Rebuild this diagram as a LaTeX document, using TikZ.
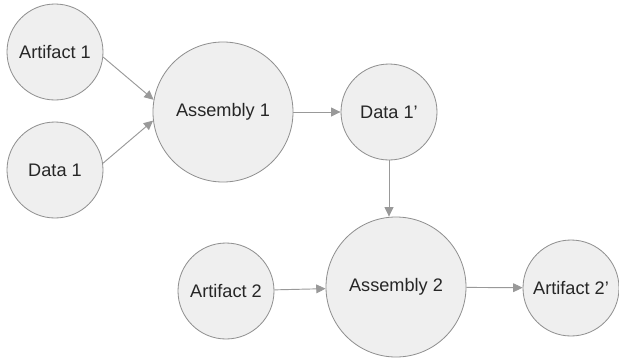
\documentclass[tikz,border=0pt]{standalone}
\usepackage{fontspec}
\setmainfont{Liberation Sans}
\usepackage{tikz}
\usetikzlibrary{arrows.meta}

\definecolor{blobfill}{HTML}{EFEFEF}
\definecolor{blobline}{HTML}{8F8F8F}
\definecolor{flowline}{HTML}{999999}

\begin{document}
\begin{tikzpicture}[
            x=0.03cm, y=-0.03cm,
            every node/.append style={text=black!85,font=\fontsize{15.5}{18}\selectfont},
            blob/.style={circle,draw=blobline,fill=blobfill,line width=0.7pt,minimum size=2.88cm,inner sep=0pt},
            bigblob/.style={blob,minimum size=4.2cm},
            flow/.style={draw=flowline,line width=0.8pt,-{Triangle[length=8pt,width=7.5pt]}}
        ]
            \useasboundingbox (0,0) rectangle (619,358);

            \node[blob] (art1) at (55,52) {Artifact 1};
            \node[blob] (dat1) at (55,170) {Data 1};
            \node[bigblob] (asm1) at (223,112) {Assembly 1};
            \node[blob] (dat1p) at (389,112) {Data 1'};

            \node[blob] (art2) at (226,291) {Artifact 2};
            \node[bigblob] (asm2) at (396,287) {Assembly 2};
            \node[blob] (art2p) at (571,288) {Artifact 2'};

            \draw[flow] (art1.-6) -- (asm1.170);
            \draw[flow] (dat1.8) -- (asm1.-173);
            \draw[flow] (asm1) -- (dat1p);
            \draw[flow] (dat1p.south) -- (dat1p.south |- asm2.north);
            \draw[flow] (art2) -- (asm2);
            \draw[flow] (asm2) -- (art2p);
        \end{tikzpicture}
\end{document}
